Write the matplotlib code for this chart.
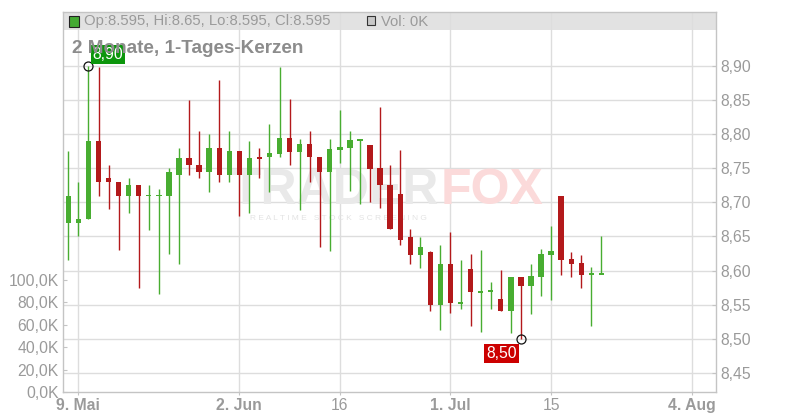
import numpy as np
import pandas as pd
import matplotlib
matplotlib.use("Agg")
import matplotlib.pyplot as plt
from matplotlib.patches import Rectangle
from matplotlib.ticker import FixedLocator, FuncFormatter

plt.rcParams['font.family'] = ['Liberation Sans', 'DejaVu Sans']

# ---------------- data ----------------
start_date = "2025-05-08"
opens = [8.670, 8.670, 8.675, 8.790, 8.735, 8.730, 8.710, 8.725, 8.710, 8.710,
         8.710, 8.740, 8.765, 8.755, 8.745, 8.780, 8.740, 8.775, 8.740, 8.767,
         8.766, 8.771, 8.794, 8.774, 8.786, 8.767, 8.744, 8.777, 8.780, 8.791,
         8.784, 8.751, 8.725, 8.712, 8.649, 8.623, 8.627, 8.549, 8.610, 8.552,
         8.602, 8.569, 8.570, 8.558, 8.541, 8.591, 8.578, 8.591, 8.623, 8.709,
         8.617, 8.611, 8.595, 8.595]
highs = [8.775, 8.730, 8.900, 8.898, 8.755, 8.730, 8.735, 8.725, 8.725, 8.720,
         8.750, 8.780, 8.850, 8.805, 8.800, 8.880, 8.805, 8.775, 8.790, 8.780,
         8.815, 8.898, 8.852, 8.793, 8.805, 8.767, 8.793, 8.835, 8.805, 8.791,
         8.784, 8.840, 8.755, 8.776, 8.661, 8.649, 8.629, 8.637, 8.657, 8.616,
         8.624, 8.630, 8.583, 8.601, 8.591, 8.591, 8.610, 8.632, 8.665, 8.709,
         8.627, 8.623, 8.605, 8.650]
lows = [8.615, 8.650, 8.675, 8.710, 8.690, 8.630, 8.685, 8.575, 8.660, 8.565,
        8.625, 8.610, 8.740, 8.735, 8.715, 8.730, 8.730, 8.680, 8.685, 8.735,
        8.715, 8.767, 8.755, 8.689, 8.730, 8.634, 8.628, 8.757, 8.716, 8.697,
        8.700, 8.692, 8.661, 8.638, 8.609, 8.604, 8.541, 8.513, 8.538, 8.544,
        8.519, 8.510, 8.544, 8.541, 8.509, 8.500, 8.537, 8.563, 8.557, 8.593,
        8.590, 8.575, 8.519, 8.595]
closes = [8.710, 8.675, 8.790, 8.730, 8.730, 8.710, 8.725, 8.710, 8.710, 8.710,
          8.745, 8.765, 8.755, 8.745, 8.780, 8.740, 8.775, 8.740, 8.765, 8.763,
          8.772, 8.794, 8.774, 8.786, 8.766, 8.744, 8.778, 8.781, 8.791, 8.791,
          8.749, 8.725, 8.661, 8.645, 8.623, 8.635, 8.549, 8.610, 8.552, 8.552,
          8.568, 8.569, 8.570, 8.541, 8.591, 8.578, 8.592, 8.624, 8.629, 8.616,
          8.610, 8.593, 8.595, 8.595]
volumes = [0] * 54

tick_dates = ["2025-05-09", "2025-06-02", "2025-06-16", "2025-07-01", "2025-07-15", "2025-08-04"]
tick_labels = ["9. Mai", "2. Jun", "16", "1. Jul", "15", "4. Aug"]
tick_bold = [True, True, False, True, False, True]

price_ticks = [8.45, 8.50, 8.55, 8.60, 8.65, 8.70, 8.75, 8.80, 8.85, 8.90]
vol_ticks = [0, 20000, 40000, 60000, 80000, 100000]

title = "2 Monate, 1-Tages-Kerzen"
header = "Op:8.595, Hi:8.65, Lo:8.595, Cl:8.595"
vol_header = "Vol: 0K"

# ---------------- style ----------------
GREEN = "#48ad31"
RED = "#b3191b"
GRID = "#dddddd"
SPINE = "#c4c4c4"
TXT = "#9a9a9a"

W, H = 800, 420
fig = plt.figure(figsize=(W / 100, H / 100), dpi=100)
L, R, T, B = 63, 716, 12, 392
ax = fig.add_axes([L / W, (H - B) / H, (R - L) / W, (B - T) / H])

# volume axis (left) created first so the price axis can keep the right side
axv = ax.twinx()

dates = pd.bdate_range(start_date, periods=len(opens))
x = np.arange(len(dates))
o = np.array(opens); c = np.array(closes); hi = np.array(highs); lo = np.array(lows)
up = c >= o
colors = np.where(up, GREEN, RED)

ax.vlines(x, lo, hi, colors=colors, lw=1.0, zorder=3)
bh = np.maximum(np.abs(c - o), 0.0028)
mid = (o + c) / 2
ax.bar(x, bh, bottom=mid - bh / 2, width=0.53, color=colors, zorder=4, linewidth=0)

ax.set_xlim(-0.53, 64.4)
ax.set_ylim(8.422, 8.979)

# ticks
tick_idx = [int(np.busday_count(start_date, d)) for d in tick_dates]
ax.xaxis.set_major_locator(FixedLocator(tick_idx))
ax.set_xticklabels(tick_labels)
for lab, b in zip(ax.get_xticklabels(), tick_bold):
    lab.set_fontweight("bold" if b else "normal")
ax.yaxis.set_major_locator(FixedLocator(price_ticks))
ax.yaxis.set_major_formatter(FuncFormatter(lambda v, p: f"{v:.2f}".replace(".", ",")))
ax.tick_params(axis="y", left=False, labelleft=False, right=True, labelright=True,
               direction="in", length=3, width=0.8, color=SPINE,
               labelcolor=TXT, labelsize=11.3, pad=3)
ax.tick_params(axis="x", direction="out", length=2.5, width=0.8, color=SPINE,
               labelcolor=TXT, labelsize=11.3, pad=2)
ax.grid(True, color=GRID, lw=1.0)
ax.set_axisbelow(True)
for s in ax.spines.values():
    s.set_color(SPINE); s.set_linewidth(1.0)

axv.bar(x, volumes, width=0.53, color="#cccccc")
axv.set_ylim(0, 339000)
axv.yaxis.set_major_locator(FixedLocator(vol_ticks))
axv.yaxis.set_major_formatter(FuncFormatter(lambda v, p: f"{v/1000:.1f}K".replace(".", ",")))
axv.tick_params(axis="y", left=True, labelleft=True, right=False, labelright=False,
                direction="in", length=3, width=0.8, color=SPINE,
                labelcolor=TXT, labelsize=11.3, pad=3)
for s in axv.spines.values():
    s.set_visible(False)

# header band
ax.add_patch(Rectangle((0, (B - 30) / (B - T)), 1, 30 / (B - T) - 0.002, transform=ax.transAxes,
                       facecolor="#e2e2e2", edgecolor="none", zorder=0.2))

def fx(px):
    return px / W

def fy(py):
    return 1 - py / H

fig.patches.append(Rectangle((fx(68.5), fy(26.5)), 10 / W, 10 / H, transform=fig.transFigure,
                             facecolor="#44aa33", edgecolor="#222222", lw=0.8, figure=fig, zorder=5))
fig.text(fx(84), fy(21.5), header, fontsize=10.7, color=TXT, va="center", ha="left", zorder=6)
fig.patches.append(Rectangle((fx(367), fy(24.5)), 8 / W, 8 / H, transform=fig.transFigure,
                             facecolor="#c8c8c8", edgecolor="#333333", lw=0.8, figure=fig, zorder=5))
fig.text(fx(381), fy(21.5), vol_header, fontsize=10.7, color=TXT, va="center", ha="left", zorder=6)

# title
fig.text(fx(72), fy(48.5), title, fontsize=13.6, fontweight="bold", color="#8c8c8c",
         va="center", ha="left", zorder=6)

# watermark
ax.text((439 - L) / (R - L), (B - 191) / (B - T), "TRADER", transform=ax.transAxes, fontsize=36,
        fontweight="heavy", color="#e9e9e9", ha="right", va="center", zorder=0.6)
ax.text((441 - L) / (R - L), (B - 191) / (B - T), "FOX", transform=ax.transAxes, fontsize=36,
        fontweight="heavy", color="#fbdada", ha="left", va="center", zorder=0.6)
ax.text((250 - L) / (R - L), (B - 219) / (B - T), "R E A L T I M E   S T O C K   S C R E E N I N G",
        transform=ax.transAxes, fontsize=6.0, color="#e3e3e3", ha="left", va="center", zorder=0.6)

# high / low markers
ih = int(np.argmax(hi)); il = int(np.argmin(lo))
ax.plot([ih], [hi[ih]], marker="o", ms=6.5, mfc="none", mec="#111111", mew=0.9, zorder=7, clip_on=False)
ax.plot([il], [lo[il]], marker="o", ms=6.5, mfc="none", mec="#111111", mew=0.9, zorder=7, clip_on=False)
ax.annotate(f"{hi[ih]:.2f}".replace(".", ","), (ih, hi[ih]), xytext=(4, 4),
            textcoords="offset pixels", ha="left", va="bottom", fontsize=11.3, color="white",
            bbox=dict(boxstyle="square,pad=0.12", fc="#0c960c", ec="none"), zorder=8)
ax.annotate(f"{lo[il]:.2f}".replace(".", ","), (il, lo[il]), xytext=(-4, -7),
            textcoords="offset pixels", ha="right", va="top", fontsize=11.3, color="white",
            bbox=dict(boxstyle="square,pad=0.12", fc="#cc0000", ec="none"), zorder=8)

fig.savefig("out.png", dpi=100)
